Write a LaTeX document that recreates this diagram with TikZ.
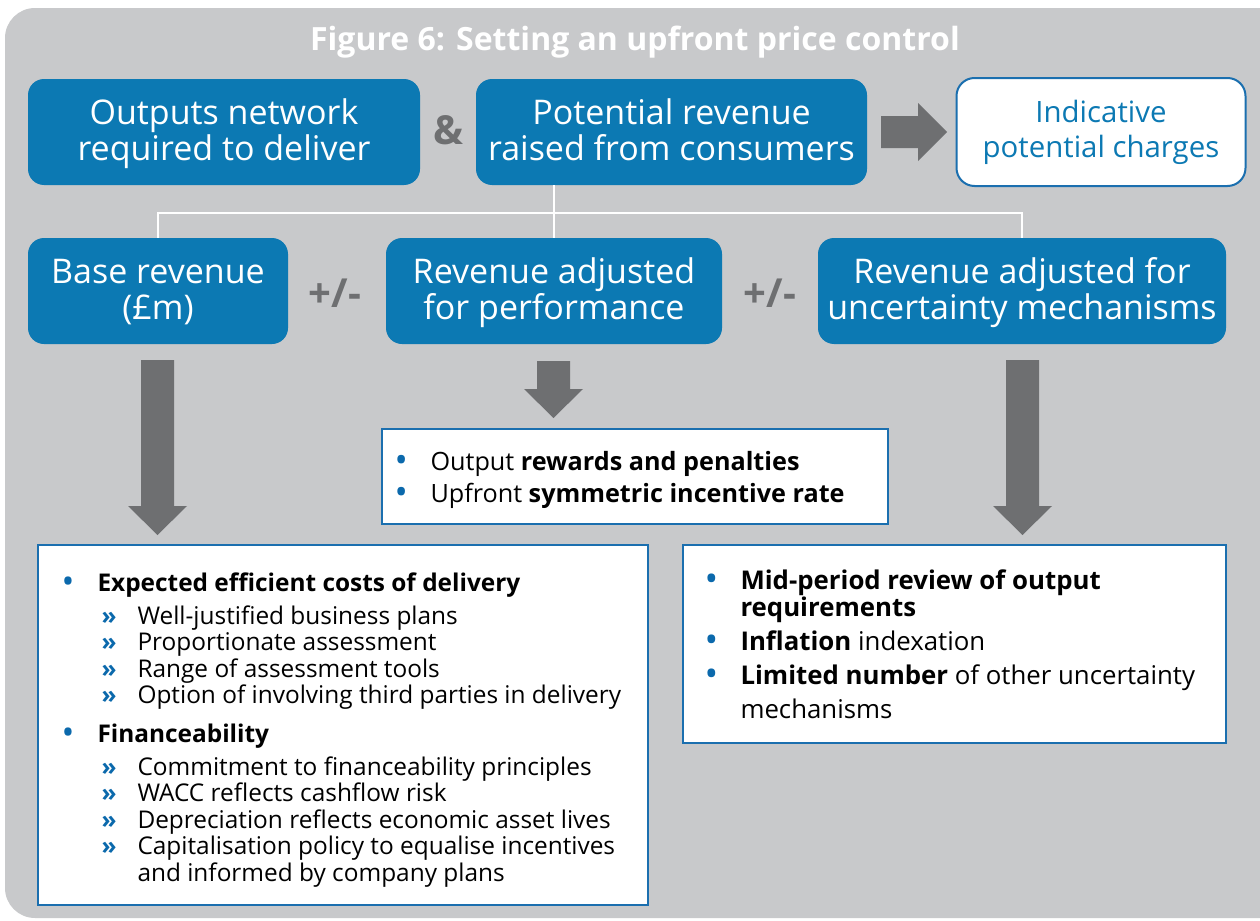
\documentclass[tikz,border=0pt]{standalone}
\usepackage{fontspec}
\setmainfont{Open Sans}
\usetikzlibrary{calc, positioning}

\definecolor{ofblue}{HTML}{0C79B3}
\definecolor{lineblue}{HTML}{1B6FAF}
\definecolor{dotblue}{HTML}{0B69AC}
\definecolor{bggray}{HTML}{C8C9CB}
\definecolor{arrowgray}{HTML}{6E6F71}

% list helpers
\newcommand{\bul}{\makebox[18pt][l]{\textcolor{dotblue}{\smash{\raisebox{-0.1em}{\scalebox{1.4}{\textbullet}}}}}}
\newcommand{\subit}{\hspace*{20pt}\makebox[18pt][l]{\textcolor{dotblue}{\textbf{»}}}}
\newcommand{\subcont}{\hspace*{38pt}}
\newcommand{\bulcont}{\hspace*{18pt}}
% struts for the blue boxes
\newcommand{\lift}{\rule{0pt}{16pt}}
\newcommand{\drop}{\rule[-6pt]{0pt}{6pt}}

\tikzset{
  bluebox/.style={fill=ofblue, rounded corners=8pt, text=white, align=center,
    inner sep=0pt, font=\fontsize{17}{18}\selectfont},
  chargebox/.style={fill=white, draw=lineblue, line width=1pt, rounded corners=9pt,
    text=ofblue, align=center, inner sep=0pt, font=\fontsize{14.7}{17.5}\selectfont},
  listbox/.style={fill=white, draw=lineblue, line width=0.9pt, inner sep=0pt},
  listtext/.style={align=left, inner sep=0pt, anchor=west},
  sign/.style={text=arrowgray, font=\bfseries\fontsize{20}{20}\selectfont},
  link/.style={draw=white, line width=1pt},
  fat/.style={fill=arrowgray}
}

\begin{document}
\begin{tikzpicture}[x=0.5pt, y=-0.5pt]
  \useasboundingbox (0,0) rectangle (1260,921);
  \clip (0,0) rectangle (1260,921);

  % Panel
  \fill[bggray, rounded corners=15pt] (5,8) rectangle (1320,918);
  \node[text=white, font=\bfseries\fontsize{16}{18}\selectfont] (title) at (635,42)
    {Figure 6: Setting an upfront price control};

  % Top row
  \node[bluebox, minimum width=196pt, minimum height=53pt] (outputs) at (224,132)
    {\lift Outputs network\\required to deliver\drop};
  \node[sign] (amp) at (448,130) {\&};
  \node[bluebox, minimum width=195.5pt, minimum height=53pt] (potential) at (671.5,132)
    {\lift Potential revenue\\raised from consumers\drop};
  \node[chargebox, minimum width=144.5pt, minimum height=54pt] (charges) at (1101,132)
    {Indicative\\potential charges};
  \fill[fat] (881,116) -- (918,116) -- (918,103) -- (947,132) -- (918,161)
    -- (918,148) -- (881,148) -- cycle;

  % Second row
  \node[bluebox, minimum width=130pt, minimum height=53pt] (base) at (158,291)
    {\lift Base revenue\\(£m)\drop};
  \node[sign] (pm1) at (335,293) {+/-};
  \node[bluebox, minimum width=168pt, minimum height=53pt] (perf) at (554,291)
    {\lift Revenue adjusted\\for performance\drop};
  \node[sign] (pm2) at (770,293) {+/-};
  \node[bluebox, minimum width=204pt, minimum height=53pt] (uncert) at (1022,291)
    {\lift Revenue adjusted for\\uncertainty mechanisms\drop};

  % Links
  \coordinate (hub) at (555,213);
  \draw[link] (potential.south -| perf.north) -- (perf.north);
  \draw[link] (base.north) |- (hub) -| (uncert.north);

  % Down arrows
  \foreach \x/\ytop/\ybase/\ytip in {157.5/360/506/535, 553.5/361/389/418, 1022.5/360/506/535}
    \fill[fat] (\x-16.5,\ytop) -- (\x+16.5,\ytop) -- (\x+16.5,\ybase) -- (\x+29.5,\ybase)
      -- (\x,\ytip) -- (\x-29.5,\ybase) -- (\x-16.5,\ybase) -- cycle;

  % Performance list
  \node[listbox, minimum width=253pt, minimum height=47.5pt] (perfbox) at (635,476.5) {};
  \node[listtext, right=6.5pt of perfbox.west, yshift=-1.5pt, font=\fontsize{12.6}{16}\selectfont] (perftext)
    {\bul Output \textbf{rewards and penalties}\\
     \bul Upfront \textbf{symmetric incentive rate}};

  % Base revenue list
  \node[listbox, minimum width=305pt, minimum height=180pt] (basebox) at (343,725) {};
  \node[listtext, right=12pt of basebox.west, yshift=-2.5pt, font=\fontsize{12.2}{13.3}\selectfont] (basetext)
    {\bul\textbf{Expected efficient costs of delivery}\\[3pt]
     \subit Well-justified business plans\\
     \subit Proportionate assessment\\
     \subit Range of assessment tools\\
     \subit Option of involving third parties in delivery\\[6pt]
     \bul\textbf{Financeability}\\[3pt]
     \subit Commitment to financeability principles\\
     \subit WACC reflects cashflow risk\\
     \subit Depreciation reflects economic asset lives\\
     \subit Capitalisation policy to equalise incentives\\
     \subcont and informed by company plans};

  % Uncertainty list
  \node[listbox, minimum width=271.5pt, minimum height=99pt] (uncbox) at (954.5,644) {};
  \node[listtext, right=11pt of uncbox.west, font=\fontsize{12.9}{17}\selectfont] (unctext)
    {\bul\textbf{Mid-period review of output}\\[-3.5pt]
     \bulcont\textbf{requirements}\\
     \bul\textbf{Inflation} indexation\\
     \bul\textbf{Limited number} of other uncertainty\\
     \bulcont mechanisms};
\end{tikzpicture}
\end{document}
